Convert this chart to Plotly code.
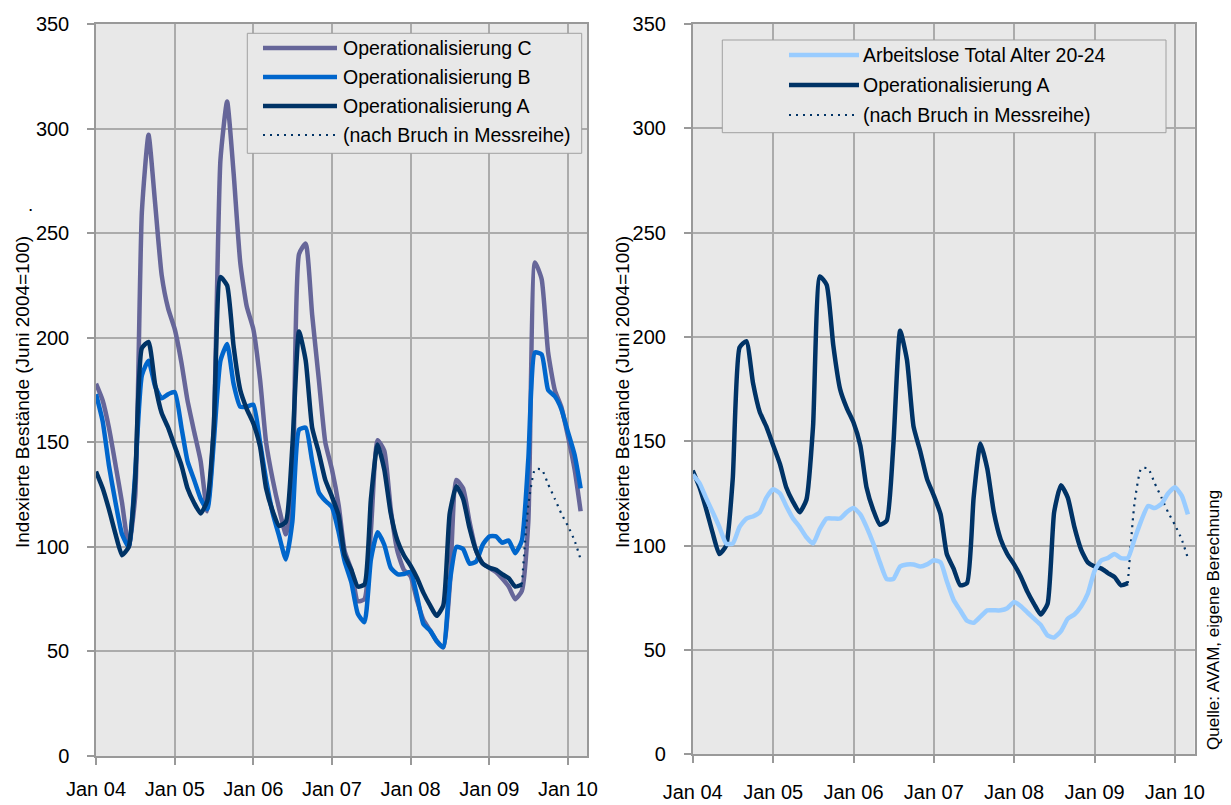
import plotly.graph_objects as go
import pandas as pd

# monthly values Jan 2004 .. Mar 2010
months = pd.date_range("2004-01-01", "2010-03-01", freq="MS")

op_c = [178, 170, 157, 139, 121, 100, 124, 260, 297, 265, 230, 214,
        204, 188, 170, 155, 141, 117, 157, 285, 313, 279, 236, 215,
        204, 180, 150, 132, 118, 106, 125, 240, 245, 211, 180, 150,
        137, 120, 98, 89, 74, 75, 108, 151, 146, 118, 98, 89,
        86, 74, 65, 60, 55, 52, 81, 132, 128, 112, 98, 92,
        90, 88, 85, 81, 75, 79, 112, 236, 228, 193, 175, 167,
        153, 137, 117]

op_b = [173, 160, 139, 121, 106, 100, 135, 182, 189, 177, 171, 173,
        174, 157, 141, 132, 123, 118, 150, 189, 197, 178, 167, 167,
        168, 150, 132, 116, 105, 94, 112, 156, 157, 141, 126, 122,
        119, 107, 93, 83, 68, 64, 94, 107, 101, 90, 87, 87,
        88, 76, 63, 60, 55, 52, 83, 100, 99, 92, 93, 101,
        105, 105, 102, 103, 97, 103, 142, 193, 192, 175, 172, 166,
        155, 144, 128]

# Operationalisierung A ends Jun 2009
op_a = [136, 128, 118, 106, 96, 100, 132, 195, 198, 178, 164, 157,
        148, 139, 128, 121, 116, 122, 157, 229, 225, 196, 175, 166,
        159, 148, 128, 117, 110, 112, 148, 203, 189, 157, 145, 132,
        124, 115, 96, 89, 81, 82, 123, 149, 137, 116, 103, 96,
        91, 85, 78, 72, 67, 72, 116, 129, 123, 109, 98, 92,
        90, 89, 87, 85, 81, 82]

# nach Bruch in Messreihe, Jun 2009 .. Mar 2010
bruch = [82, 120, 137, 137, 130, 123, 116, 110, 103, 94]

total_20_24 = [134, 130, 123, 116, 109, 101, 101, 109, 113, 114, 116, 123,
               127, 125, 119, 113, 109, 104, 101, 108, 113, 113, 113, 116,
               118, 115, 109, 101, 92, 84, 84, 90, 91, 91, 90, 91,
               93, 92, 83, 74, 69, 64, 63, 66, 69, 69, 69, 70,
               73, 71, 68, 65, 62, 57, 56, 59, 65, 67, 71, 77,
               88, 93, 94, 96, 94, 94, 103, 112, 119, 118, 120, 125,
               128, 124, 115]

C_COL, B_COL, A_COL, T_COL = "#666699", "#0066CC", "#003366", "#99CCFF"
FONT = "Liberation Sans, Arial, sans-serif"
DOTS = "2px,5px"
W, H = 1231, 805


def px(x):
    return x / W


def py(y):
    return 1 - y / H


def solid(color):
    return dict(color=color, width=4.5, shape="spline", smoothing=0.5)


fig = go.Figure()
a_x = months[:len(op_a)]
bruch_x = months[len(op_a) - 1:]
dotted = dict(color=A_COL, width=2.2, dash=DOTS, shape="spline", smoothing=0.5)

# left panel
fig.add_trace(go.Scatter(x=months, y=op_c, mode="lines", line=solid(C_COL), xaxis="x", yaxis="y"))
fig.add_trace(go.Scatter(x=months, y=op_b, mode="lines", line=solid(B_COL), xaxis="x", yaxis="y"))
fig.add_trace(go.Scatter(x=bruch_x, y=bruch, mode="lines", line=dotted, xaxis="x", yaxis="y"))
fig.add_trace(go.Scatter(x=a_x, y=op_a, mode="lines", line=solid(A_COL), xaxis="x", yaxis="y"))

# right panel
fig.add_trace(go.Scatter(x=a_x, y=op_a, mode="lines", line=solid(A_COL), xaxis="x2", yaxis="y2"))
fig.add_trace(go.Scatter(x=bruch_x, y=bruch, mode="lines", line=dotted, xaxis="x2", yaxis="y2"))
fig.add_trace(go.Scatter(x=months, y=total_20_24, mode="lines", line=solid(T_COL),
                         xaxis="x2", yaxis="y2"))

xax = dict(type="date", range=["2004-01-01", "2010-04-01"], tick0="2004-01-01", dtick="M12",
           tickformat="%b %y", showgrid=True, gridcolor="#ABABAB", gridwidth=1.5,
           showline=True, linecolor="#999999", linewidth=1.5, mirror=True,
           ticks="outside", ticklen=7, tickcolor="#999999", tickwidth=1.5,
           tickfont=dict(family=FONT, size=20, color="#000"), zeroline=False, automargin=False)
yax = dict(range=[0, 350], dtick=50, showgrid=True, gridcolor="#ABABAB", gridwidth=1.5,
           showline=True, linecolor="#999999", linewidth=1.5, mirror=True,
           ticks="outside", ticklen=7, tickcolor="#999999", tickwidth=1.5,
           tickfont=dict(family=FONT, size=20, color="#000"), zeroline=False,
           ticklabelstandoff=14, automargin=False)

fig.update_layout(
    width=W, height=H, margin=dict(l=0, r=0, t=0, b=0, autoexpand=False),
    paper_bgcolor="white", plot_bgcolor="#E8E8E8", showlegend=False,
    font=dict(family=FONT, size=20, color="#000"),
    xaxis=dict(xax, domain=[px(96), px(587.3)], anchor="y", ticklabelstandoff=7),
    yaxis=dict(yax, domain=[py(756), py(24)], anchor="x"),
    xaxis2=dict(xax, domain=[px(692.7), px(1194.7)], anchor="y2", ticklabelstandoff=12),
    yaxis2=dict(yax, domain=[py(754.3), py(24)], anchor="x2"),
)

# custom legends
shapes = []
annotations = []


def legend_box(x0, y0, x1, y1):
    shapes.append(dict(type="rect", xref="paper", yref="paper", x0=px(x0), x1=px(x1),
                       y0=py(y1), y1=py(y0), fillcolor="#E8E8E8",
                       line=dict(color="#A0A0A0", width=1), layer="above"))


def legend_item(lx0, lx1, y, color, width, dash, label, tx):
    shapes.append(dict(type="line", xref="paper", yref="paper", x0=px(lx0), x1=px(lx1),
                       y0=py(y), y1=py(y), line=dict(color=color, width=width, dash=dash),
                       layer="above"))
    annotations.append(dict(xref="paper", yref="paper", x=px(tx), y=py(y), text=label,
                            showarrow=False, xanchor="left", yanchor="middle",
                            font=dict(family=FONT, size=19.5, color="#000")))


legend_box(247.3, 33.3, 581.7, 153.3)
legend_item(263, 337, 48, C_COL, 4.5, "solid", "Operationalisierung C", 341)
legend_item(263, 337, 77, B_COL, 4.5, "solid", "Operationalisierung B", 341)
legend_item(263, 337, 106, A_COL, 4.5, "solid", "Operationalisierung A", 341)
legend_item(263, 337, 135, A_COL, 2.2, DOTS, "(nach Bruch in Messreihe)", 341)

legend_box(722.3, 40, 1166, 132.7)
legend_item(789, 859, 55, T_COL, 4.5, "solid", "Arbeitslose Total Alter 20-24", 861)
legend_item(789, 859, 85, A_COL, 4.5, "solid", "Operationalisierung A", 861)
legend_item(789, 859, 115, A_COL, 2.2, DOTS, "(nach Bruch in Messreihe)", 861)

# axis titles and source
ytitle = "Indexierte Bestände (Juni 2004=100)"
for xp in (22, 622):
    annotations.append(dict(xref="paper", yref="paper", x=px(xp), y=py(392), text=ytitle,
                            textangle=-90, showarrow=False, xanchor="center", yanchor="middle",
                            font=dict(family=FONT, size=19, color="#000")))
annotations.append(dict(xref="paper", yref="paper", x=px(30), y=py(205), text=".",
                        showarrow=False, xanchor="center", yanchor="middle",
                        font=dict(family=FONT, size=19, color="#000")))
annotations.append(dict(xref="paper", yref="paper", x=px(1213), y=py(752),
                        text="Quelle: AVAM, eigene Berechnung", textangle=-90,
                        showarrow=False, xanchor="center", yanchor="bottom",
                        font=dict(family=FONT, size=17, color="#000")))

fig.update_layout(shapes=shapes, annotations=annotations)

fig.write_html("out.html", config={"displayModeBar": False},
               post_script="document.body.style.margin='0';")
